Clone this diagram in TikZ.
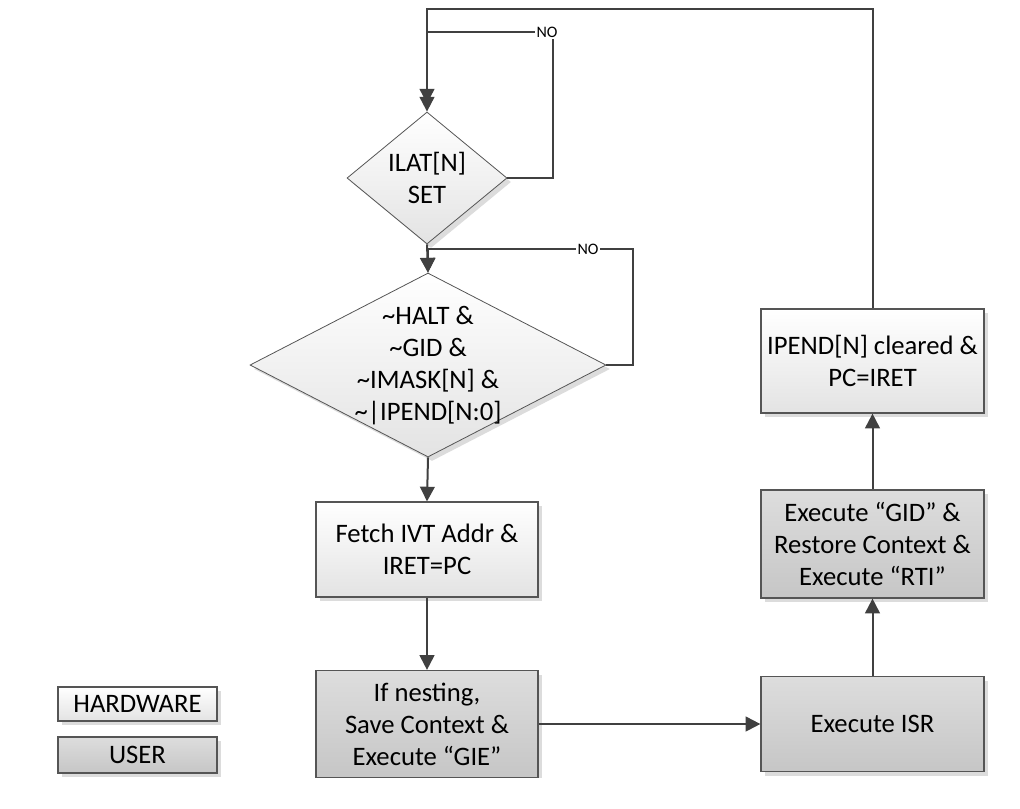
\documentclass[tikz,border=0pt]{standalone}
\usepackage{fontspec}
\setmainfont{Carlito}
\usetikzlibrary{shapes.geometric,arrows.meta,shadows}

\definecolor{linegray}{HTML}{404040}
\definecolor{edgegray}{HTML}{555555}
\definecolor{shadowgray}{HTML}{DCDCDC}
\definecolor{hwtop}{HTML}{FFFFFF}
\definecolor{hwbot}{HTML}{E3E3E3}
\definecolor{ustop}{HTML}{DDDDDD}
\definecolor{usbot}{HTML}{C6C6C6}

\begin{document}
\begin{tikzpicture}[x=0.75pt,y=-0.75pt,
  font=\fontsize{20pt}{24pt}\selectfont,
  base/.style={draw=edgegray, line width=0.9pt, inner sep=0pt, align=center,
    drop shadow={shadow xshift=3pt, shadow yshift=-3pt, fill=shadowgray, opacity=1}},
  hw/.style={base, top color=hwtop, bottom color=hwbot},
  usr/.style={base, top color=ustop, bottom color=usbot},
  hwbox/.style={hw, rectangle},
  usrbox/.style={usr, rectangle},
  decision/.style={hw, diamond, line width=0.6pt},
  dtext/.style={align=center, inner sep=0pt},
  conn/.style={draw=linegray, line width=1.5pt, -{Triangle[length=11pt,width=11pt]}},
  nolab/.style={fill=white, inner sep=1pt, font=\fontsize{12pt}{14pt}\selectfont}
]
\useasboundingbox (0,0) rectangle (1020,808);

\begin{scope}
\clip (0,0) rectangle (1020,777);

% decisions
\node[decision, minimum width=120pt, minimum height=99pt] (d1) at (427,178) {};
\node[dtext] (d1t) at (427,178) {ILAT[N]\\SET};
\node[decision, minimum width=267pt, minimum height=138pt] (d2) at (428,365) {};
\node[dtext] (d2t) at (428,366) {\textasciitilde HALT \&\\\textasciitilde GID \&\\\textasciitilde IMASK[N] \&\\\textasciitilde|IPEND[N:0]};

% process boxes
\node[hwbox, minimum width=166.5pt, minimum height=71.25pt] (fetch) at (427,549.5) {Fetch IVT Addr \&\\IRET=PC};
\node[usrbox, minimum width=166.5pt, minimum height=80.25pt] (nest) at (427,724) {If nesting,\\Save Context \&\\Execute “GIE”};
\node[usrbox, minimum width=167.25pt, minimum height=71.25pt] (isr) at (872.5,724) {Execute ISR};
\node[usrbox, minimum width=167.25pt, minimum height=81pt] (gid) at (872.5,544) {Execute “GID” \&\\Restore Context \&\\Execute “RTI”};
\node[hwbox, minimum width=167.25pt, minimum height=78pt] (ipend) at (872.5,361) {IPEND[N] cleared \&\\PC=IRET};

% legend
\node[hwbox, minimum width=119.25pt, minimum height=25.5pt] (leghw) at (137.5,704) {HARDWARE};
\node[usrbox, minimum width=119.25pt, minimum height=27pt] (legus) at (137.5,755) {USER};

% bends of the return paths
\coordinate (topR) at (872.5,9);
\coordinate (topL) at (427,9);
\coordinate (k1) at (553,32);
\coordinate (k2) at (633,249);

% main flow
\draw[conn] (d1.south) -- (d2.north);
\draw[conn] (d2.south) -- (fetch.north);
\draw[conn] (fetch.south) -- (nest.north);
\draw[conn] (nest.east) -- (isr.west);
\draw[conn] (isr.north) -- (gid.south);
\draw[conn] (gid.north) -- (ipend.south);

% loops back
\draw[conn, shorten >=6pt] (ipend.north) -- (topR) -- (topL) -- (d1.north);
\draw[conn] (d1.east) -| (k1) -| (d1.north);
\draw[conn] (d2.east) -| (k2) -| (d2.north);

\node[nolab] (no1) at (547,32) {NO};
\node[nolab] (no2) at (588,249) {NO};
\end{scope}
\end{tikzpicture}
\end{document}
